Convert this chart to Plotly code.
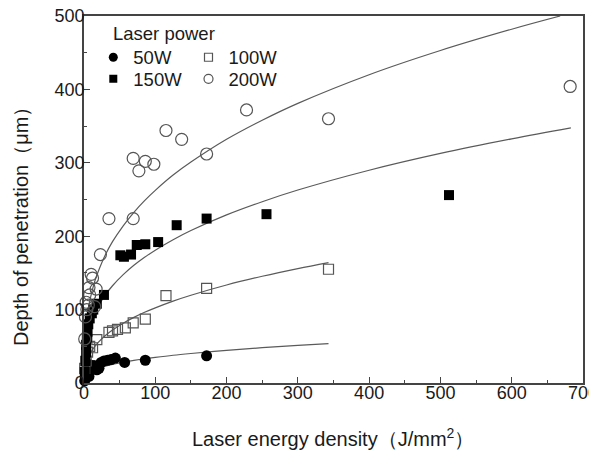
import plotly.graph_objects as go

# ---- data ----
series_names = ["50W", "100W", "150W", "200W"]

x_50 = [1, 2, 3, 4, 5, 7, 8, 10, 14, 18, 21, 24, 28, 33, 38, 44, 57, 86, 172]
y_50 = [3, 8, 14, 20, 12, 9, 25, 22, 24, 18, 20, 28, 30, 31, 32, 34, 28, 31, 37]

x_100 = [1, 3, 5, 8, 12, 18, 35, 40, 47, 58, 69, 86, 115, 172, 343]
y_100 = [20, 30, 42, 50, 48, 59, 69, 71, 73, 75, 82, 87, 119, 129, 155]

x_150 = [1, 2, 3, 3, 4, 5, 6, 8, 11, 13, 18, 28, 51, 56, 66, 74, 86, 104, 130, 172, 256, 512]
y_150 = [15, 30, 42, 52, 62, 70, 80, 88, 95, 100, 108, 120, 174, 172, 175, 188, 189, 192, 215, 224, 230, 256]

x_200 = [1, 2, 3, 4, 6, 7, 8, 10, 12, 15, 17, 23, 35, 69, 69, 77, 86, 98, 115, 137, 172, 228, 343, 682]
y_200 = [60, 90, 110, 100, 106, 130, 120, 148, 143, 104, 128, 175, 224, 224, 306, 289, 302, 298, 344, 332, 312, 372, 360, 404]

# fitted curves
fit_x_short = [0.5, 1, 2, 3, 5, 7, 10, 15, 20, 30, 40, 55, 70, 85, 100, 125, 150, 200, 250, 300, 343]
fit_y_50 = [5.5, 7.0, 8.9, 10.3, 12.3, 13.8, 15.6, 18.0, 19.9, 22.9, 25.4, 28.3, 30.8, 33.0, 34.9, 37.8, 40.2, 44.5, 48.1, 51.2, 53.7]
fit_y_100 = [13.5, 17.6, 23.0, 26.8, 32.6, 37.1, 42.5, 49.6, 55.4, 64.7, 72.2, 81.5, 89.4, 96.3, 102.4, 111.6, 119.6, 133.5, 145.4, 155.9, 164.0]

fit_x_150 = [0.5, 1, 2, 3, 5, 7, 10, 15, 20, 30, 40, 55, 70, 85, 100, 125, 150, 200, 250, 300, 400, 500, 600, 683]
fit_y_150 = [29.9, 37.8, 47.9, 54.9, 65.3, 73.3, 82.7, 94.9, 104.7, 120.1, 132.5, 147.6, 160.3, 171.2, 181.0, 195.2, 207.7, 229.0, 247.0, 262.9, 289.9, 312.8, 332.7, 347.7]

fit_x_200 = [0.5, 1, 2, 3, 5, 7, 10, 15, 20, 30, 40, 55, 70, 85, 100, 125, 150, 200, 250, 300, 400, 500, 600, 668]
fit_y_200 = [43.6, 55.1, 69.7, 80.0, 95.0, 106.8, 120.0, 138.3, 152.0, 174.7, 192.6, 214.2, 232.6, 248.5, 262.5, 283.3, 301.0, 332.0, 358.0, 381.0, 420.0, 453.0, 482.0, 500.0]

x_ticks = [0, 100, 200, 300, 400, 500, 600, 700]
y_ticks = [0, 100, 200, 300, 400, 500]

FONT = "Liberation Sans, Arial, Helvetica, sans-serif"
DARK = "#1a1a1a"
GREY = "#555555"
LINE = "#5a5a5a"

fig = go.Figure()

# fit curves
for fx, fy in [(fit_x_short, fit_y_50), (fit_x_short, fit_y_100), (fit_x_150, fit_y_150), (fit_x_200, fit_y_200)]:
    fig.add_trace(go.Scatter(x=fx, y=fy, mode="lines", line=dict(color=LINE, width=1.2, shape="spline"),
                             showlegend=False, hoverinfo="skip"))

styles = {
    "50W": dict(symbol="circle", color="black", size=11, line=dict(width=0)),
    "100W": dict(symbol="square-open", color=GREY, size=10, line=dict(width=1.2, color=GREY)),
    "150W": dict(symbol="square", color="black", size=10, line=dict(width=0)),
    "200W": dict(symbol="circle-open", color=GREY, size=12, line=dict(width=1.2, color=GREY)),
}
data = {"50W": (x_50, y_50), "100W": (x_100, y_100), "150W": (x_150, y_150), "200W": (x_200, y_200)}

for name in series_names:
    xs, ys = data[name]
    fig.add_trace(go.Scatter(x=xs, y=ys, mode="markers", marker=styles[name], name=name,
                             showlegend=False, cliponaxis=False))

# legend-only entries (one legend per entry for exact placement)
legend_ids = {"50W": "legend", "100W": "legend2", "150W": "legend3", "200W": "legend4"}
legend_styles = {
    "50W": dict(symbol="circle", color="black", size=9, line=dict(width=0)),
    "100W": dict(symbol="square-open", color=GREY, size=8, line=dict(width=1.2, color=GREY)),
    "150W": dict(symbol="square", color="black", size=8, line=dict(width=0)),
    "200W": dict(symbol="circle-open", color=GREY, size=9, line=dict(width=1.2, color=GREY)),
}
for name in series_names:
    fig.add_trace(go.Scatter(x=[None], y=[None], mode="markers", marker=legend_styles[name], name=name,
                             legend=legend_ids[name], showlegend=True))

# the page body adds an 8px offset; size the figure so the plot lands where the reference has it
OFF = 8
W, H = 589, 447
ml, mr, mt, mb = 76, 14, 8, 72
pw, ph = W - ml - mr, H - mt - mb

def px_x(p):  # window pixel -> paper coordinate
    return (p - OFF - ml) / pw

def px_y(p):
    return 1 - (p - OFF - mt) / ph

leg_common = dict(font=dict(family=FONT, size=18.5, color=DARK), bgcolor="rgba(0,0,0,0)",
                  xanchor="left", yanchor="middle", itemwidth=30, borderwidth=0)
pos = {"legend": (113.3, 57.7), "legend2": (208.5, 57.7), "legend3": (113.3, 79.3), "legend4": (208.5, 79.3)}
leg_layout = {}
for lid, (sx, sy) in pos.items():
    leg_layout[lid] = dict(leg_common, x=px_x(sx - 20), y=px_y(sy))

axis_common = dict(showline=True, linecolor="#444444", linewidth=1.6, mirror=True,
                   ticks="inside", ticklen=6, tickwidth=1.3, tickcolor="#444444",
                   showgrid=False, zeroline=False, automargin=False,
                   ticklabeloverflow="allow",
                   tickfont=dict(family=FONT, size=18, color=DARK),
                   minor=dict(ticks="inside", ticklen=3, tickwidth=1.3, tickcolor="#444444", dtick=50))

fig.update_layout(
    width=W, height=H,
    margin=dict(l=ml, r=mr, t=mt, b=mb, autoexpand=False),
    paper_bgcolor="white", plot_bgcolor="white",
    xaxis=dict(axis_common, range=[0, 700], tickvals=x_ticks, ticktext=[str(v) for v in x_ticks],
               ticklabelstandoff=-7),
    yaxis=dict(axis_common, range=[0, 500], tickvals=y_ticks, ticktext=[str(v) for v in y_ticks],
               ticklabelstandoff=-6),
    **leg_layout,
    annotations=[
        dict(text="Laser power", xref="paper", yref="paper", x=px_x(110.7), y=px_y(33),
             xanchor="left", yanchor="middle", showarrow=False,
             font=dict(family=FONT, size=18.5, color=DARK)),
        dict(text="Laser energy density（J/mm<sup>2</sup>）", xref="paper", yref="paper",
             x=px_x(333), y=px_y(437), xanchor="center", yanchor="middle", showarrow=False,
             font=dict(family=FONT, size=20, color=DARK)),
        dict(text="Depth of penetration（μm）", xref="paper", yref="paper", textangle=-90,
             x=px_x(21), y=px_y(222), xanchor="center", yanchor="middle", showarrow=False,
             font=dict(family=FONT, size=20, color=DARK)),
    ],
)

fig.write_html("out.html")
